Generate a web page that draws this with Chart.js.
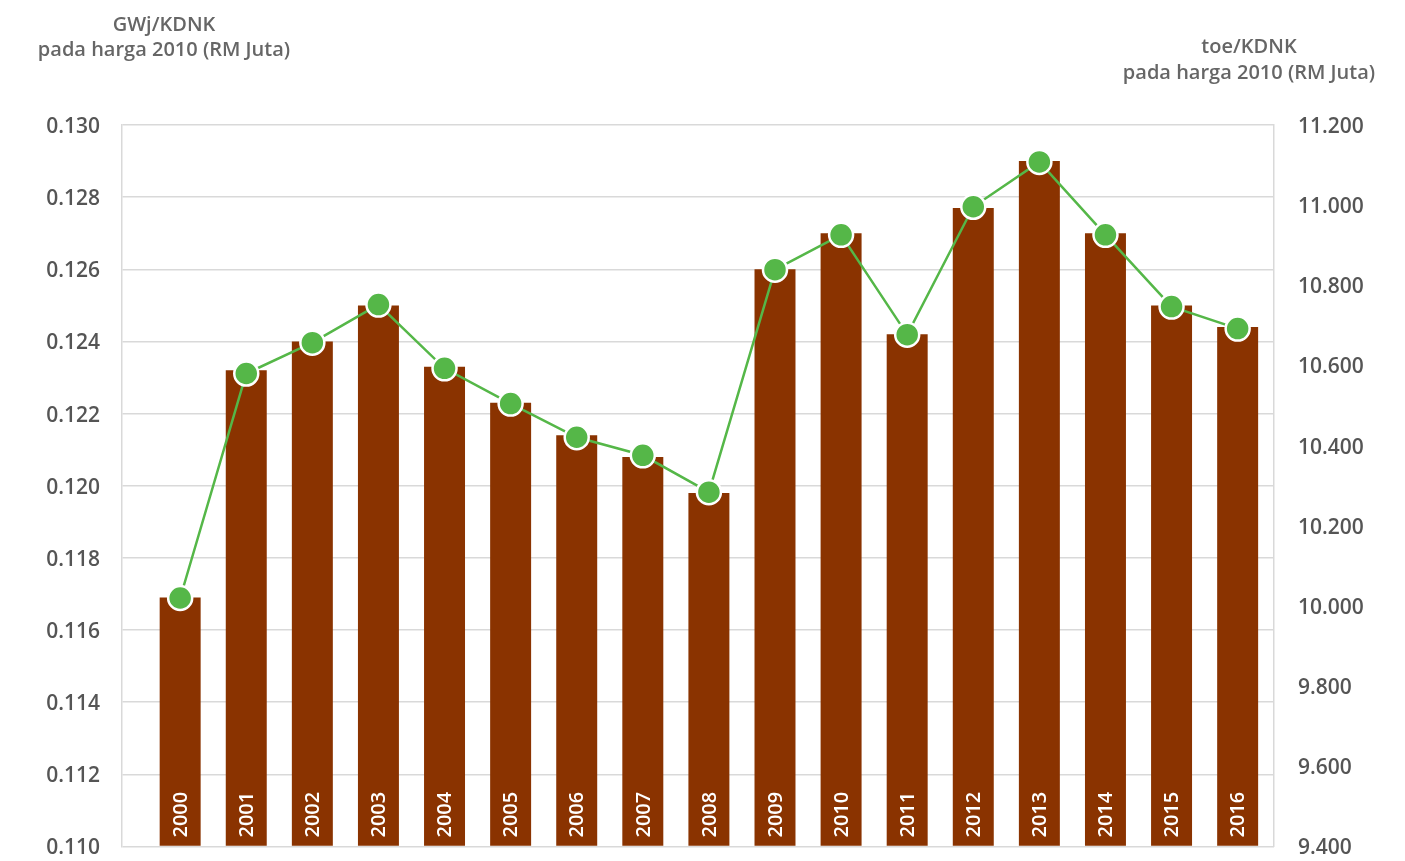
<!DOCTYPE html>
<html>
<head>
<meta charset="utf-8">
<script src="https://cdn.jsdelivr.net/npm/chart.js@4"></script>
<style>
  html, body { margin: 0; padding: 0; background: #ffffff; overflow: hidden; }
  #wrap { width: 1405px; height: 861px; position: relative; }
</style>
</head>
<body>
<div id="wrap"><canvas id="intensityChart"></canvas></div>
<script>
// Tahun dan nilai intensiti tenaga
const years = [2000, 2001, 2002, 2003, 2004, 2005, 2006, 2007, 2008, 2009, 2010, 2011, 2012, 2013, 2014, 2015, 2016];
const gwjPerKdnk = [0.1169, 0.1232, 0.1240, 0.1250, 0.1233, 0.1223, 0.1214, 0.1208, 0.1198, 0.1260, 0.1270, 0.1242, 0.1277, 0.1290, 0.1270, 0.1250, 0.1244];
const toePerKdnk = [10.020, 10.580, 10.657, 10.752, 10.593, 10.505, 10.421, 10.376, 10.284, 10.839, 10.926, 10.677, 10.996, 11.108, 10.926, 10.747, 10.692];

const leftTitle = ['GWj/KDNK', 'pada harga 2010 (RM Juta)'];
const rightTitle = ['toe/KDNK', 'pada harga 2010 (RM Juta)'];

const tickFont = { family: 'Open Sans', size: 21, weight: '600' };
const textGrey = '#555555';

// tulis label tahun dalam bar + tajuk paksi
const yearLabels = {
  id: 'yearLabels',
  afterDatasetsDraw(chart) {
    const ctx = chart.ctx;
    const meta = chart.getDatasetMeta(1);
    ctx.save();
    ctx.fillStyle = '#ffffff';
    ctx.font = '600 20px "Open Sans"';
    ctx.textAlign = 'left';
    ctx.textBaseline = 'middle';
    meta.data.forEach((bar, i) => {
      ctx.save();
      ctx.translate(bar.x + 1, chart.chartArea.bottom - 9);
      ctx.rotate(-Math.PI / 2);
      ctx.fillText(String(years[i]), 0, 0);
      ctx.restore();
    });
    ctx.restore();
  },
  afterDraw(chart) {
    const ctx = chart.ctx;
    ctx.save();
    ctx.fillStyle = '#666666';
    ctx.font = '600 20px "Open Sans"';
    ctx.textAlign = 'center';
    ctx.textBaseline = 'middle';
    ctx.fillText(leftTitle[0], 164, 25);
    ctx.fillText(leftTitle[1], 164, 50);
    ctx.fillText(rightTitle[0], 1249, 47);
    ctx.fillText(rightTitle[1], 1249, 73);
    ctx.restore();
  }
};

const ctx = document.getElementById('intensityChart').getContext('2d');

const intensityChart = new Chart(ctx, {
  data: {
    datasets: [
      {
        type: 'line',
        label: 'toe/KDNK',
        data: years.map((y, i) => ({ x: y, y: toePerKdnk[i] })),
        yAxisID: 'y1',
        borderColor: '#55b748',
        borderWidth: 2.5,
        pointRadius: 12,
        pointHoverRadius: 12,
        pointBackgroundColor: '#55b748',
        pointBorderColor: '#ffffff',
        pointBorderWidth: 2.5,
        tension: 0,
        order: 1,
      },
      {
        type: 'bar',
        label: 'GWj/KDNK',
        data: years.map((y, i) => ({ x: y, y: gwjPerKdnk[i] })),
        yAxisID: 'y',
        backgroundColor: '#8a3300',
        barPercentage: 0.62,
        categoryPercentage: 1,
        base: 0.110,
        order: 2,
      },
    ],
  },
  options: {
    responsive: true,
    maintainAspectRatio: false,
    animation: false,
    layout: { padding: { top: 125, bottom: 14, left: 0, right: 0 } },
    plugins: {
      legend: { display: false },
      tooltip: { enabled: false },
    },
    scales: {
      x: {
        type: 'linear',
        display: false,
        offset: false,
        min: 1999.12,
        max: 2016.55,
      },
      y: {
        position: 'left',
        min: 0.110,
        max: 0.130,
        ticks: {
          stepSize: 0.002,
          color: textGrey,
          font: tickFont,
          padding: 0,
          labelOffset: 2,
          callback: v => v.toFixed(3),
        },
        grid: { color: '#d9d9d9', tickColor: 'rgba(0,0,0,0)', tickLength: 22, lineWidth: 1.5 },
        border: { display: true, color: '#d9d9d9', width: 1.5 },
        afterFit: s => { s.width = 122; },
      },
      y1: {
        position: 'right',
        min: 9.4,
        max: 11.2,
        ticks: {
          stepSize: 0.2,
          color: textGrey,
          font: tickFont,
          padding: 0,
          labelOffset: 2,
          callback: v => v.toFixed(3),
        },
        grid: { drawOnChartArea: false, tickColor: 'rgba(0,0,0,0)', tickLength: 24 },
        border: { display: true, color: '#d9d9d9', width: 1.5 },
        afterFit: s => { s.width = 131; },
      },
    },
  },
  plugins: [yearLabels],
});
</script>
</body>
</html>
